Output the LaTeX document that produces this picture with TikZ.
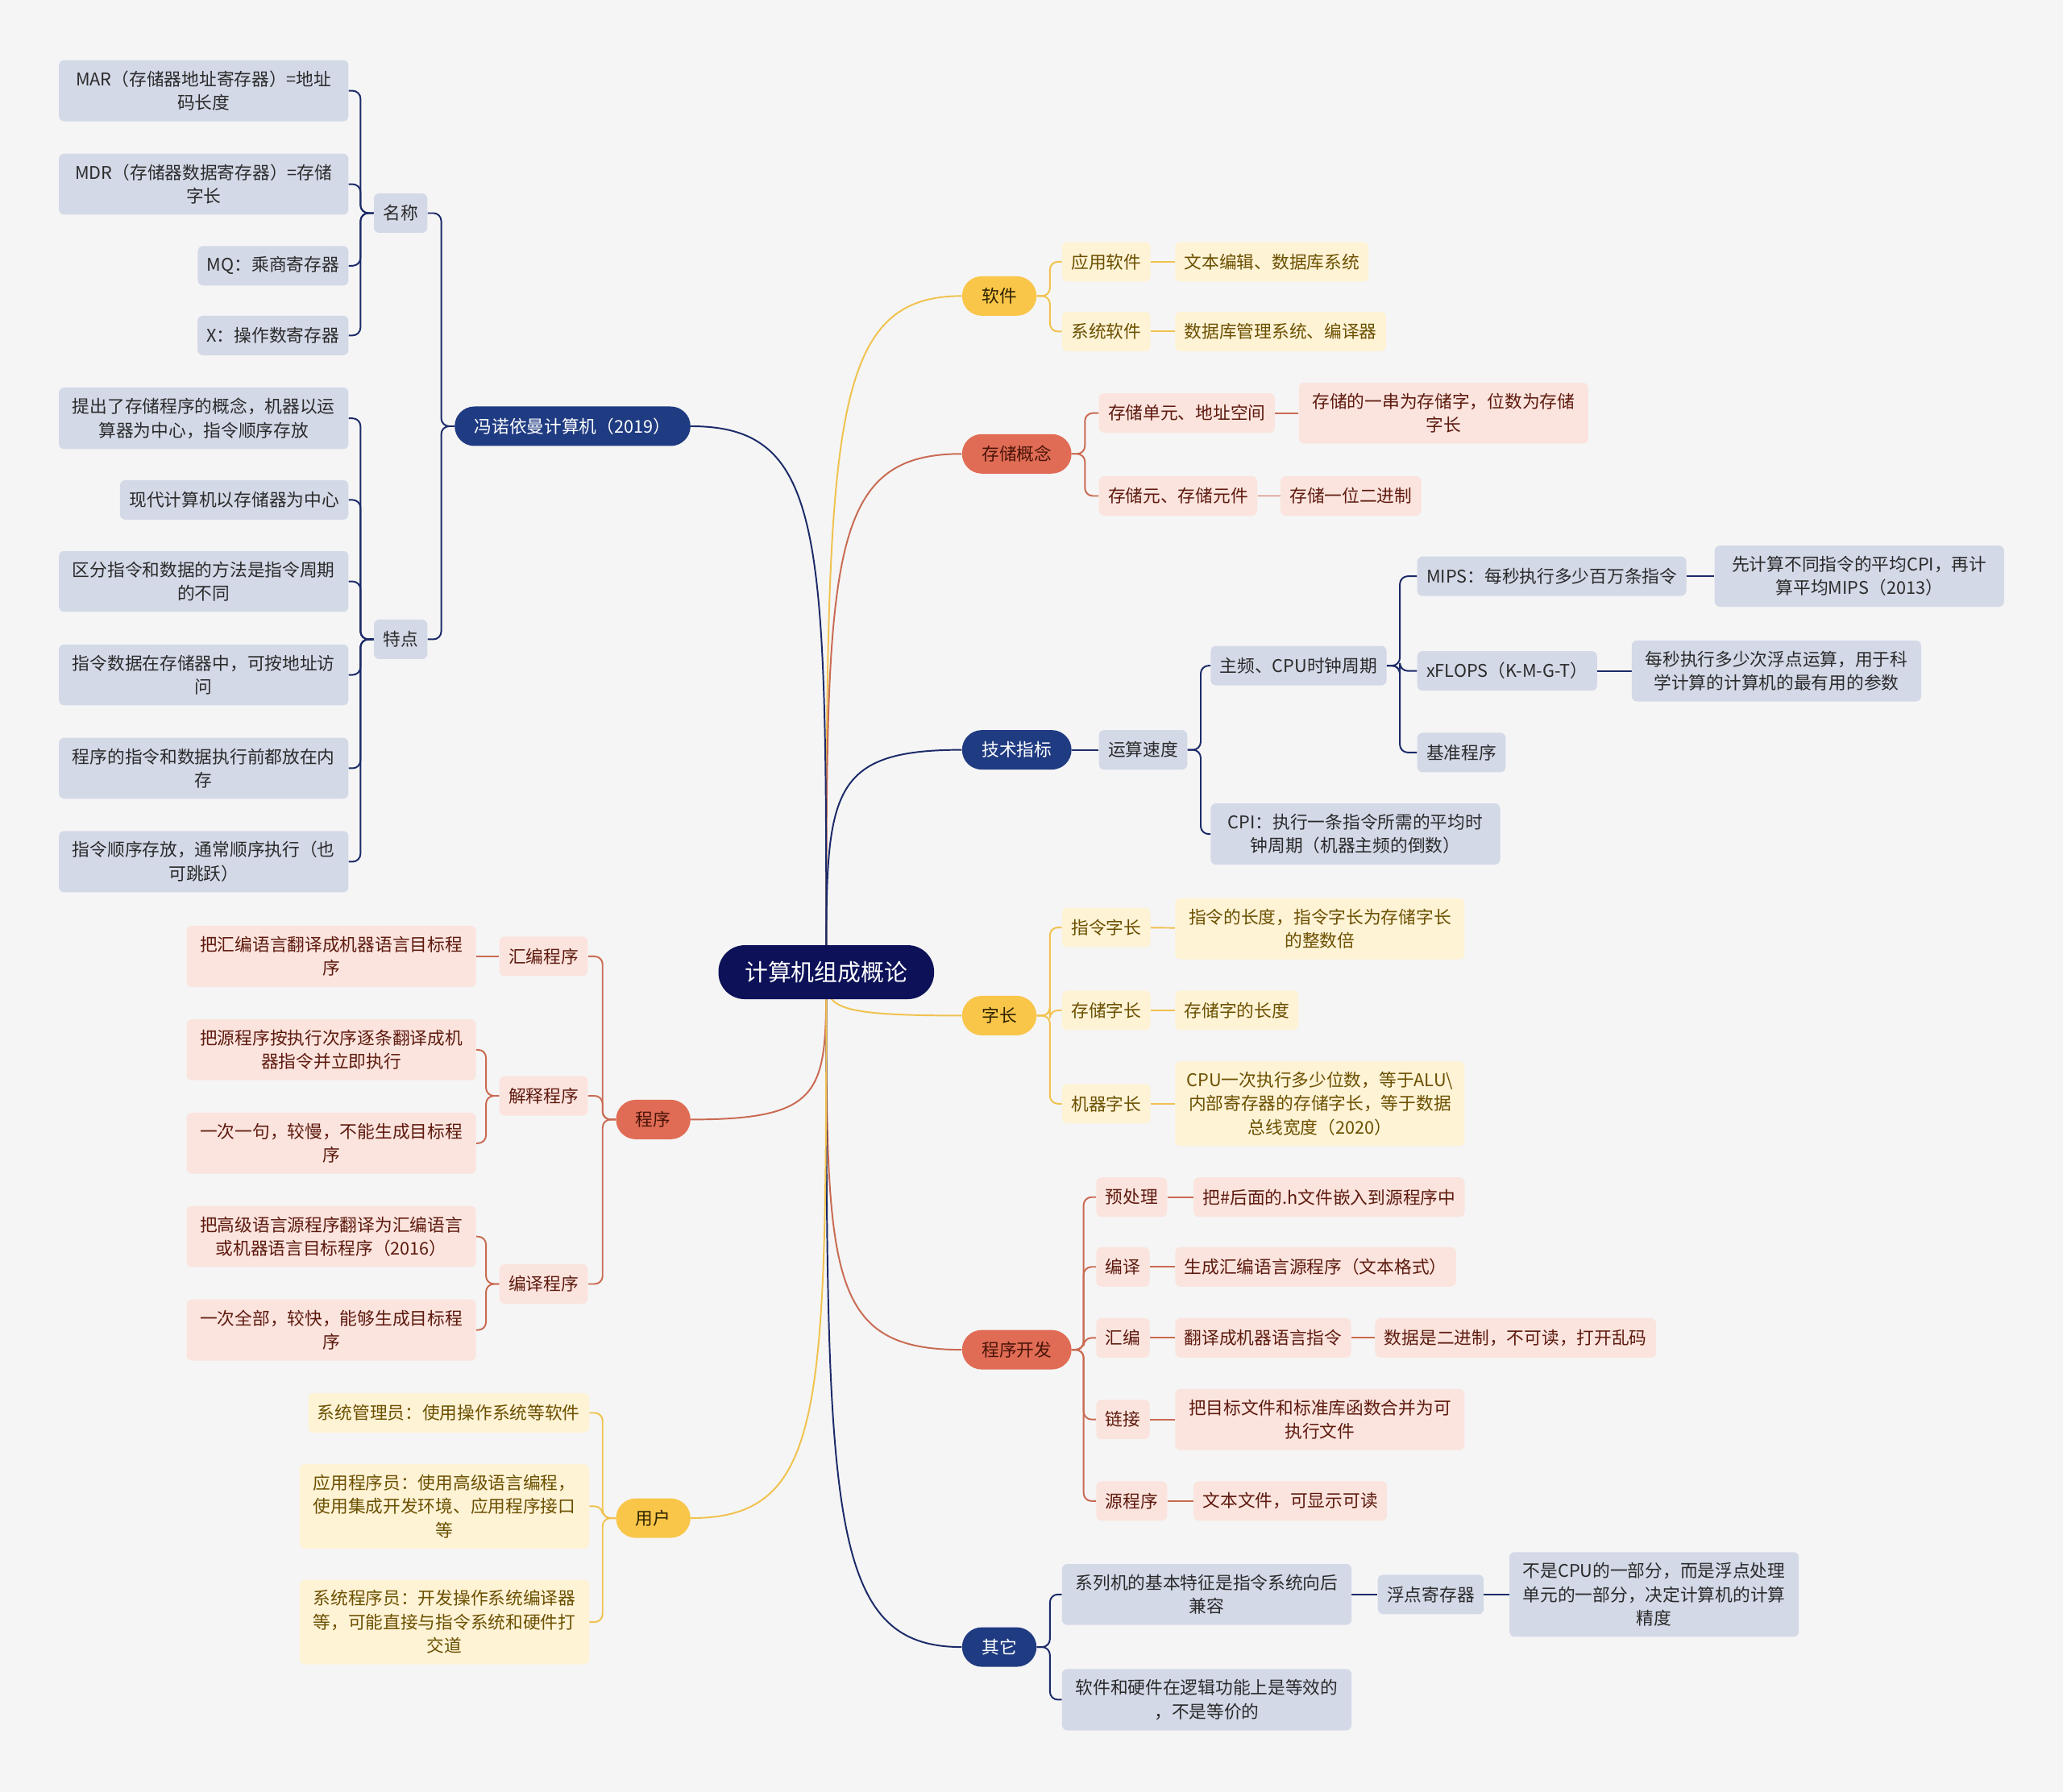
\documentclass[tikz,border=0pt]{standalone}
\usepackage{fontspec}
\setmainfont{Noto Sans CJK SC}
\usepackage{xcolor}
\usetikzlibrary{positioning}
\pgfdeclarelayer{bg}
\pgfsetlayers{bg,main}

\definecolor{paper}{HTML}{F5F5F5}
\definecolor{rootc}{HTML}{0C1158}
\definecolor{navyc}{HTML}{1F3B82}
\definecolor{navyline}{HTML}{1B2A68}
\definecolor{navyfill}{HTML}{D4D9E8}
\definecolor{navytext}{HTML}{2B2B2B}
\definecolor{goldc}{HTML}{F9C64A}
\definecolor{goldline}{HTML}{F0C24E}
\definecolor{goldfill}{HTML}{FFF3D6}
\definecolor{goldtext}{HTML}{6B5000}
\definecolor{goldtop}{HTML}{2E2200}
\definecolor{coralc}{HTML}{E06C55}
\definecolor{coralline}{HTML}{C96A52}
\definecolor{coralfill}{HTML}{FBE4DE}
\definecolor{coraltext}{HTML}{5E1A0E}
\definecolor{coraltop}{HTML}{4A1408}

\begin{document}
\begin{tikzpicture}[
  x=1pt, y=-1pt,
  font=\fontsize{13.3pt}{18pt}\selectfont,
  rootbox/.style={fill=rootc, text=white, rounded corners=20pt, minimum height=41pt,
    inner xsep=20pt, font=\fontsize{17.7pt}{22pt}\selectfont},
  topic/.style={rounded corners=15pt, minimum height=30pt, inner xsep=15pt, inner ysep=0pt},
  navytopic/.style={topic, fill=navyc, text=white},
  goldtopic/.style={topic, fill=goldc, text=goldtop},
  coraltopic/.style={topic, fill=coralc, text=coraltop},
  leaf/.style={rounded corners=4pt, minimum height=30pt, inner xsep=7pt, inner ysep=8pt, align=center},
  wide/.style={text width=206pt},
  navyleaf/.style={leaf, fill=navyfill, text=navytext},
  goldleaf/.style={leaf, fill=goldfill, text=goldtext},
  coralleaf/.style={leaf, fill=coralfill, text=coraltext},
  navyln/.style={draw=navyline, line width=1.2pt, rounded corners=6pt},
  goldln/.style={draw=goldline, line width=1.2pt, rounded corners=6pt},
  coralln/.style={draw=coralline, line width=1.2pt, rounded corners=6pt}
]
\useasboundingbox (0,0) rectangle (1568,1362);

% centre
\node[rootbox] (root) at (628,739) {计算机组成概论};

% main topics, right side
\node[goldtopic, anchor=west] (soft) at (731,225) {软件};
\node[coraltopic, anchor=west] (stor) at (731,345) {存储概念};
\node[navytopic, anchor=west] (tech) at (731,570) {技术指标};
\node[goldtopic, anchor=west] (wlen) at (731,772) {字长};
\node[coraltopic, anchor=west] (dev) at (731,1026) {程序开发};
\node[navytopic, anchor=west] (misc) at (731,1252) {其它};

% main topics, left side
\node[navytopic, anchor=east] (vn) at (525,324) {冯诺依曼计算机（2019）};
\node[coraltopic, anchor=east] (prog) at (525,851) {程序};
\node[goldtopic, anchor=east] (user) at (525,1154) {用户};

% von Neumann
\node[navyleaf, anchor=east] (name) at (325,162) {名称};
\node[navyleaf, anchor=east] (feat) at (325,486) {特点};
\node[navyleaf, wide, anchor=east] (mar) at (265,69) {MAR（存储器地址寄存器）=地址\\码长度};
\node[navyleaf, wide, anchor=east] (mdr) at (265,140) {MDR（存储器数据寄存器）=存储\\字长};
\node[navyleaf, anchor=east] (mq) at (265,202) {MQ：乘商寄存器};
\node[navyleaf, anchor=east] (xreg) at (265,255) {X：操作数寄存器};
\node[navyleaf, wide, anchor=east] (f1) at (265,318) {提出了存储程序的概念，机器以运\\算器为中心，指令顺序存放};
\node[navyleaf, anchor=east] (f2) at (265,380) {现代计算机以存储器为中心};
\node[navyleaf, wide, anchor=east] (f3) at (265,442) {区分指令和数据的方法是指令周期\\的不同};
\node[navyleaf, wide, anchor=east] (f4) at (265,513) {指令数据在存储器中，可按地址访\\问};
\node[navyleaf, wide, anchor=east] (f5) at (265,584) {程序的指令和数据执行前都放在内\\存};
\node[navyleaf, wide, anchor=east] (f6) at (265,655) {指令顺序存放，通常顺序执行（也\\可跳跃）};

% programs
\node[coralleaf, anchor=east] (asm) at (447,727) {汇编程序};
\node[coralleaf, anchor=east] (interp) at (447,833) {解释程序};
\node[coralleaf, anchor=east] (comp) at (447,976) {编译程序};
\node[coralleaf, wide, anchor=east] (asmx) at (362,727) {把汇编语言翻译成机器语言目标程\\序};
\node[coralleaf, wide, anchor=east] (int1) at (362,798) {把源程序按执行次序逐条翻译成机\\器指令并立即执行};
\node[coralleaf, wide, anchor=east] (int2) at (362,869) {一次一句，较慢，不能生成目标程\\序};
\node[coralleaf, wide, anchor=east] (cmp1) at (362,940) {把高级语言源程序翻译为汇编语言\\或机器语言目标程序（2016）};
\node[coralleaf, wide, anchor=east] (cmp2) at (362,1011) {一次全部，较快，能够生成目标程\\序};

% users
\node[goldleaf, anchor=east] (u1) at (448,1074) {系统管理员：使用操作系统等软件};
\node[goldleaf, wide, anchor=east] (u2) at (448,1145) {应用程序员：使用高级语言编程，\\使用集成开发环境、应用程序接口\\等};
\node[goldleaf, wide, anchor=east] (u3) at (448,1233) {系统程序员：开发操作系统编译器\\等，可能直接与指令系统和硬件打\\交道};

% software
\node[goldleaf, anchor=west] (appsw) at (807,199) {应用软件};
\node[goldleaf, anchor=west] (syssw) at (807,252) {系统软件};
\node[goldleaf, anchor=west] (appswx) at (893,199) {文本编辑、数据库系统};
\node[goldleaf, anchor=west] (sysswx) at (893,252) {数据库管理系统、编译器};

% storage
\node[coralleaf, anchor=west] (cell) at (835,314) {存储单元、地址空间};
\node[coralleaf, anchor=west] (bit) at (835,377) {存储元、存储元件};
\node[coralleaf, wide, anchor=west] (cellx) at (987,314) {存储的一串为存储字，位数为存储\\字长};
\node[coralleaf, anchor=west] (bitx) at (973,377) {存储一位二进制};

% performance
\node[navyleaf, anchor=west] (speed) at (835,570) {运算速度};
\node[navyleaf, anchor=west] (freq) at (920,506) {主频、CPU时钟周期};
\node[navyleaf, wide, anchor=west] (cpi) at (920,634) {CPI：执行一条指令所需的平均时\\钟周期（机器主频的倒数）};
\node[navyleaf, anchor=west] (mips) at (1077,438) {MIPS：每秒执行多少百万条指令};
\node[navyleaf, anchor=west] (flops) at (1077,510) {xFLOPS（K-M-G-T）};
\node[navyleaf, anchor=west] (bench) at (1077,572) {基准程序};
\node[navyleaf, wide, anchor=west] (mipsx) at (1303,438) {先计算不同指令的平均CPI，再计\\算平均MIPS（2013）};
\node[navyleaf, wide, anchor=west] (flopsx) at (1240,510) {每秒执行多少次浮点运算，用于科\\学计算的计算机的最有用的参数};

% word length
\node[goldleaf, anchor=west] (iw) at (807,705) {指令字长};
\node[goldleaf, anchor=west] (sw) at (807,768) {存储字长};
\node[goldleaf, anchor=west] (mw) at (807,839) {机器字长};
\node[goldleaf, wide, anchor=west] (iwx) at (893,706) {指令的长度，指令字长为存储字长\\的整数倍};
\node[goldleaf, anchor=west] (swx) at (893,768) {存储字的长度};
\node[goldleaf, wide, anchor=west] (mwx) at (893,839) {CPU一次执行多少位数，等于ALU\textbackslash\\内部寄存器的存储字长，等于数据\\总线宽度（2020）};

% development
\node[coralleaf, anchor=west] (pre) at (833,910) {预处理};
\node[coralleaf, anchor=west] (cc) at (833,963) {编译};
\node[coralleaf, anchor=west] (as) at (833,1017) {汇编};
\node[coralleaf, anchor=west] (ln) at (833,1079) {链接};
\node[coralleaf, anchor=west] (src) at (833,1141) {源程序};
\node[coralleaf, anchor=west] (prex) at (907,910) {把\#后面的.h文件嵌入到源程序中};
\node[coralleaf, anchor=west] (ccx) at (893,963) {生成汇编语言源程序（文本格式）};
\node[coralleaf, anchor=west] (asx) at (893,1017) {翻译成机器语言指令};
\node[coralleaf, anchor=west] (asxx) at (1045,1017) {数据是二进制，不可读，打开乱码};
\node[coralleaf, wide, anchor=west] (lnx) at (893,1079) {把目标文件和标准库函数合并为可\\执行文件};
\node[coralleaf, anchor=west] (srcx) at (907,1141) {文本文件，可显示可读};

% others
\node[navyleaf, wide, anchor=west] (fam) at (807,1212) {系列机的基本特征是指令系统向后\\兼容};
\node[navyleaf, wide, anchor=west] (eqv) at (807,1292) {软件和硬件在逻辑功能上是等效的\\，不是等价的};
\node[navyleaf, anchor=west] (fpr) at (1047,1212) {浮点寄存器};
\node[navyleaf, wide, anchor=west] (fprx) at (1147,1212) {不是CPU的一部分，而是浮点处理\\单元的一部分，决定计算机的计算\\精度};

\begin{pgfonlayer}{bg}
\fill[paper] (0,0) rectangle (1568,1362);

% branches from the centre
\draw[goldln] (root.center) .. controls (628,328) and (628,225) .. (soft.west);
\draw[coralln] (root.center) .. controls (628,424) and (628,345) .. (stor.west);
\draw[navyln] (root.center) .. controls (628,604) and (628,570) .. (tech.west);
\draw[goldln] (root.center) .. controls (628,765) and (628,772) .. (wlen.west);
\draw[coralln] (root.center) .. controls (628,969) and (628,1026) .. (dev.west);
\draw[navyln] (root.center) .. controls (628,1149) and (628,1252) .. (misc.west);
\draw[navyln] (root.center) .. controls (628,407) and (628,324) .. (vn.east);
\draw[coralln] (root.center) .. controls (628,829) and (628,851) .. (prog.east);
\draw[goldln] (root.center) .. controls (628,1071) and (628,1154) .. (user.east);

% left brackets
\foreach \c in {name,feat} \draw[navyln] (vn.west) -- ++(-10,0) |- (\c.east);
\foreach \c in {mar,mdr,mq,xreg} \draw[navyln] (name.west) -- ++(-10,0) |- (\c.east);
\foreach \c in {f1,f2,f3,f4,f5,f6} \draw[navyln] (feat.west) -- ++(-10,0) |- (\c.east);
\foreach \c in {asm,interp,comp} \draw[coralln] (prog.west) -- ++(-10,0) |- (\c.east);
\foreach \c in {int1,int2} \draw[coralln] (interp.west) -- ++(-10,0) |- (\c.east);
\foreach \c in {cmp1,cmp2} \draw[coralln] (comp.west) -- ++(-10,0) |- (\c.east);
\draw[coralln] (asm) -- (asmx);
\foreach \c in {u1,u2,u3} \draw[goldln] (user.west) -- ++(-10,0) |- (\c.east);

% right brackets
\foreach \c in {appsw,syssw} \draw[goldln] (soft.east) -- ++(10,0) |- (\c.west);
\draw[goldln] (appsw) -- (appswx);
\draw[goldln] (syssw) -- (sysswx);
\foreach \c in {cell,bit} \draw[coralln] (stor.east) -- ++(10,0) |- (\c.west);
\draw[coralln] (cell) -- (cellx);
\draw[coralln] (bit) -- (bitx);
\draw[navyln] (tech) -- (speed);
\foreach \c in {freq,cpi} \draw[navyln] (speed.east) -- ++(10,0) |- (\c.west);
\foreach \c in {mips,flops,bench} \draw[navyln] (freq.east) -- ++(10,0) |- (\c.west);
\draw[navyln] (mips) -- (mipsx);
\draw[navyln] (flops) -- (flopsx);
\foreach \c in {iw,sw,mw} \draw[goldln] (wlen.east) -- ++(10,0) |- (\c.west);
\draw[goldln] (iw) -- (iwx);
\draw[goldln] (sw) -- (swx);
\draw[goldln] (mw) -- (mwx);
\foreach \c in {pre,cc,as,ln,src} \draw[coralln] (dev.east) -- ++(9,0) |- (\c.west);
\draw[coralln] (pre) -- (prex);
\draw[coralln] (cc) -- (ccx);
\draw[coralln] (as) -- (asx);
\draw[coralln] (asx) -- (asxx);
\draw[coralln] (ln) -- (lnx);
\draw[coralln] (src) -- (srcx);
\foreach \c in {fam,eqv} \draw[navyln] (misc.east) -- ++(10,0) |- (\c.west);
\draw[navyln] (fam) -- (fpr);
\draw[navyln] (fpr) -- (fprx);
\end{pgfonlayer}

\end{tikzpicture}
\end{document}
